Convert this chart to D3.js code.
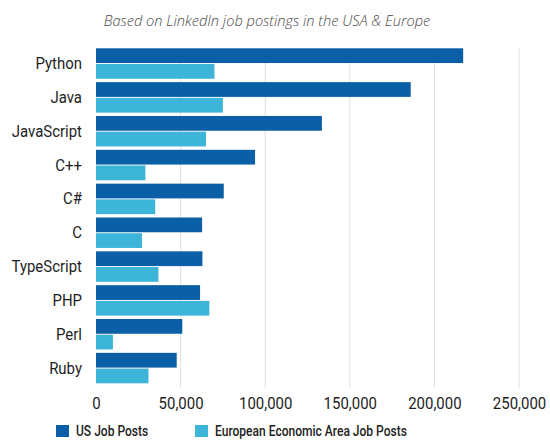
<!DOCTYPE html>
<html>
<head>
<meta charset="utf-8">
<script src="https://cdn.jsdelivr.net/npm/d3@7"></script>
<style>
  body { margin: 0; background: #fff; }
</style>
</head>
<body>
<script>
// Chart data
var languages = ["Python", "Java", "JavaScript", "C++", "C#", "C", "TypeScript", "PHP", "Perl", "Ruby"];
var usPosts = [217000, 186000, 133500, 94000, 75500, 62700, 62900, 61500, 51000, 47700];
var euPosts = [70000, 75000, 65000, 29200, 35000, 27200, 36900, 67000, 10000, 31000];
var seriesNames = ["US Job Posts", "European Economic Area Job Posts"];
var seriesColors = ["#0a5fa6", "#3db5d8"];
var xTicks = [0, 50000, 100000, 150000, 200000, 250000];

var width = 550, height = 440;
// the reference uses a condensed sans; squeeze Roboto horizontally to match
var squeeze = 0.86;

var svg = d3.select("body").append("svg")
    .attr("width", width)
    .attr("height", height);

// scales
var xScale = d3.scaleLinear().domain([0, 250000]).range([96, 519]);

var yScale = d3.scaleBand()
    .domain(languages)
    .range([46.6, 385])
    .paddingInner(0.1)
    .paddingOuter(0.05);

var ySub = d3.scaleBand()
    .domain([0, 1])
    .range([0, yScale.bandwidth()])
    .paddingInner(0.06);

// title
svg.append("text")
    .attr("x", 267)
    .attr("y", 26)
    .attr("text-anchor", "middle")
    .attr("font-family", "Open Sans")
    .attr("font-style", "italic")
    .attr("font-weight", 300)
    .attr("font-size", "14.6px")
    .attr("fill", "#4a4a4a")
    .text("Based on LinkedIn job postings in the USA & Europe");

// vertical gridlines
svg.append("g")
    .selectAll("line")
    .data(xTicks.slice(1))
    .enter()
    .append("line")
    .attr("x1", function(d) { return xScale(d); })
    .attr("x2", function(d) { return xScale(d); })
    .attr("y1", 48)
    .attr("y2", 388)
    .attr("stroke", "#dedede")
    .attr("stroke-width", 1);

// bars
var rows = languages.map(function(d, i) {
    return { key: d, values: [usPosts[i], euPosts[i]] };
});

var groups = svg.append("g")
    .selectAll("g")
    .data(rows)
    .enter()
    .append("g")
    .attr("transform", function(d) { return "translate(0," + yScale(d.key) + ")"; });

groups.selectAll("rect")
    .data(function(d) { return d.values; })
    .enter()
    .append("rect")
    .attr("x", xScale(0))
    .attr("y", function(d, i) { return ySub(i); })
    .attr("width", function(d) { return xScale(d) - xScale(0); })
    .attr("height", ySub.bandwidth())
    .attr("fill", function(d, i) { return seriesColors[i]; });

// category labels
var yAxis = d3.axisLeft(yScale).tickSize(0).tickPadding(14);
var yg = svg.append("g")
    .attr("transform", "translate(" + xScale(0) + ",0)")
    .call(yAxis);
yg.select(".domain").remove();
yg.selectAll("text")
    .attr("x", -14 / squeeze)
    .attr("transform", "scale(" + squeeze + ",1)")
    .attr("font-family", "Roboto")
    .attr("font-size", "17.4px")
    .attr("fill", "#1e1e1e");

// x axis labels
var xAxis = d3.axisBottom(xScale).tickValues(xTicks).tickSize(0).tickPadding(0)
    .tickFormat(d3.format(","));
var xg = svg.append("g")
    .attr("transform", "translate(0,397)")
    .call(xAxis);
xg.select(".domain").remove();
xg.selectAll("text")
    .attr("transform", "scale(" + squeeze + ",1)")
    .attr("font-family", "Roboto")
    .attr("font-size", "17.4px")
    .attr("fill", "#1e1e1e");

// legend
var legendX = [56, 195];
var legend = svg.append("g")
    .selectAll("g")
    .data(seriesNames)
    .enter()
    .append("g")
    .attr("transform", function(d, i) { return "translate(" + legendX[i] + ",425)"; });

legend.append("rect")
    .attr("width", 13)
    .attr("height", 12)
    .attr("fill", function(d, i) { return seriesColors[i]; });

legend.append("text")
    .attr("x", 20 / squeeze)
    .attr("y", 11)
    .attr("transform", "scale(" + squeeze + ",1)")
    .attr("font-family", "Roboto")
    .attr("font-weight", 500)
    .attr("font-size", "14px")
    .attr("fill", "#222")
    .text(function(d) { return d; });
</script>
</body>
</html>
